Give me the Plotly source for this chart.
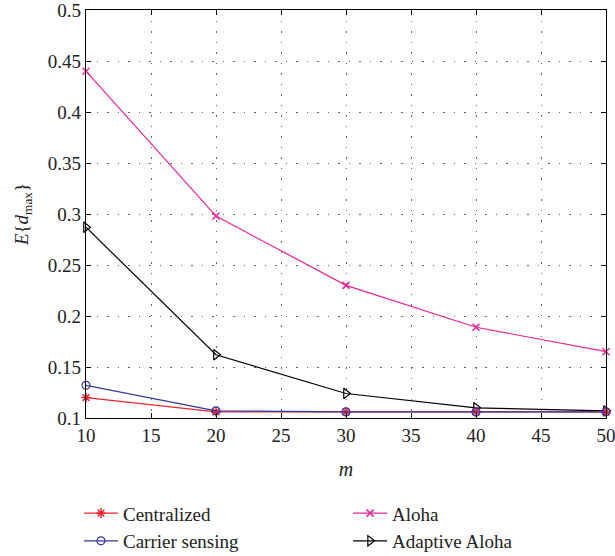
import plotly.graph_objects as go

m = [10, 20, 30, 40, 50]
centralized = [0.120, 0.106, 0.106, 0.106, 0.106]
carrier = [0.132, 0.107, 0.106, 0.106, 0.106]
aloha = [0.440, 0.298, 0.230, 0.189, 0.165]
adaptive = [0.287, 0.162, 0.124, 0.110, 0.107]

xticks = [10, 15, 20, 25, 30, 35, 40, 45, 50]
yticks = [0.1, 0.15, 0.2, 0.25, 0.3, 0.35, 0.4, 0.45, 0.5]

FONT = "Liberation Serif"

fig = go.Figure()
fig.add_trace(go.Scatter(x=m, y=aloha, name="Aloha", mode="lines+markers",
                         line=dict(color="#e8249a", width=1.2),
                         marker=dict(symbol="x-thin-open", size=7, line=dict(color="#e8249a", width=1.5)),
                         legend="legend2", legendrank=1, cliponaxis=False))
fig.add_trace(go.Scatter(x=m, y=adaptive, name="Adaptive Aloha", mode="lines+markers",
                         line=dict(color="black", width=1.2),
                         marker=dict(symbol="triangle-right-open", size=9, line=dict(color="black", width=1.2)),
                         legend="legend2", legendrank=2, cliponaxis=False))
fig.add_trace(go.Scatter(x=m, y=centralized, name="Centralized", mode="lines+markers",
                         line=dict(color="#f0252f", width=1.2),
                         marker=dict(symbol="asterisk-open", size=8, line=dict(color="#f0252f", width=1.5)),
                         legend="legend", legendrank=1, cliponaxis=False))
fig.add_trace(go.Scatter(x=m, y=carrier, name="Carrier sensing", mode="lines+markers",
                         line=dict(color="#3535a0", width=1.2),
                         marker=dict(symbol="circle-open", size=8, line=dict(color="#3535a0", width=1.2)),
                         legend="legend", legendrank=2, cliponaxis=False))

axis_common = dict(showline=True, linecolor="black", linewidth=1.2, mirror="ticks",
                   ticks="inside", ticklen=5, tickcolor="black",
                   showgrid=True, gridcolor="#666666", griddash="1.5px,9px", gridwidth=1.2,
                   zeroline=False, automargin=False, ticklabeloverflow="allow",
                   tickfont=dict(family=FONT, size=19, color="#222"))

fig.update_xaxes(range=[10, 50], tickvals=xticks, **axis_common,
                 title=dict(text="<i>m</i>", font=dict(family=FONT, size=20, color="#222"), standoff=17))
fig.update_yaxes(range=[0.1, 0.5], tickvals=yticks, ticktext=[f"{v:g}" for v in yticks], **axis_common,
                 title=dict(text="<i>E</i>{<i>d</i><sub>max</sub>}", font=dict(family=FONT, size=19, color="#222"),
                            standoff=14))

leg_common = dict(orientation="v", xanchor="left", yref="container", y=0.111, yanchor="top",
                  traceorder="normal", font=dict(family=FONT, size=19, color="#222"),
                  tracegroupgap=0, itemwidth=34, bgcolor="rgba(0,0,0,0)")

fig.update_layout(
    width=615, height=556,
    margin=dict(l=86, r=9, t=10, b=138, autoexpand=False),
    plot_bgcolor="white", paper_bgcolor="white",
    font=dict(family=FONT, color="#222"),
    legend=dict(x=-0.0135, **leg_common),
    legend2=dict(x=0.504, **leg_common),
)

fig.write_html("out.html", config={"displayModeBar": False},
               post_script="document.body.style.margin='0';")
